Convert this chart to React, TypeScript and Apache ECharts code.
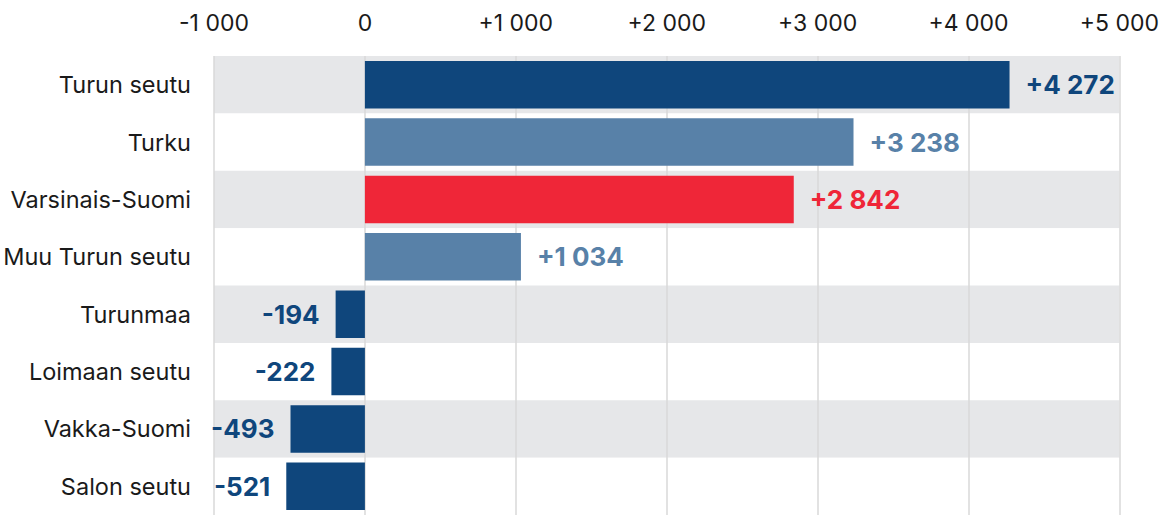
import React, { useEffect, useRef } from "react";
import * as echarts from "echarts";

const categories = [
  "Turun seutu",
  "Turku",
  "Varsinais-Suomi",
  "Muu Turun seutu",
  "Turunmaa",
  "Loimaan seutu",
  "Vakka-Suomi",
  "Salon seutu",
];
const values = [4272, 3238, 2842, 1034, -194, -222, -493, -521];
const barColors = [
  "#0f467c",
  "#5881a8",
  "#ef2638",
  "#5881a8",
  "#0f467c",
  "#0f467c",
  "#0f467c",
  "#0f467c",
];

const fmt = (v: number) => {
  const abs = Math.abs(v)
    .toString()
    .replace(/\B(?=(\d{3})+(?!\d))/g, " ");
  if (v > 0) return "+" + abs;
  if (v < 0) return "-" + abs;
  return "0";
};

export default function App() {
  const ref = useRef<HTMLDivElement>(null);
  useEffect(() => {
    if (!ref.current) return;
    const chart = echarts.init(ref.current, undefined, { renderer: "svg" });
    const font = "Inter, 'Noto Sans', sans-serif";
    chart.setOption({
      animation: false,
      textStyle: { fontFamily: font },
      grid: { left: 214, width: 907, top: 56, height: 464, containLabel: false },
      xAxis: {
        type: "value",
        position: "top",
        min: -1000,
        max: 5000,
        interval: 1000,
        z: 1,
        axisLine: { show: false },
        axisTick: { show: false },
        axisLabel: {
          formatter: (v: number) => fmt(v),
          fontSize: 23,
          color: "#1a1a1a",
          fontFamily: font,
          margin: 22,
        },
        splitLine: { show: true, lineStyle: { color: "#d9d9d9", width: 1.5 } },
      },
      yAxis: {
        type: "category",
        data: categories,
        inverse: true,
        z: 0,
        axisLine: { show: false },
        axisTick: { show: false },
        axisLabel: {
          fontSize: 23.5,
          color: "#1a1a1a",
          fontFamily: font,
          margin: 23,
        },
        splitLine: { show: false },
        splitArea: {
          show: true,
          areaStyle: { color: ["#e6e7e9", "#ffffff"] },
        },
      },
      series: [
        {
          type: "bar",
          z: 2,
          barWidth: "83%",
          data: values.map((v, i) => ({
            value: v,
            itemStyle: { color: barColors[i] },
            label: {
              show: true,
              position: v >= 0 ? "right" : "left",
              distance: 16,
              formatter: () => fmt(v),
              color: barColors[i],
              fontSize: 26,
              fontWeight: "bold",
              fontFamily: font,
            },
          })),
        },
      ],
    });
    return () => chart.dispose();
  }, []);
  return (
    <div
      ref={ref}
      style={{ position: "absolute", left: 0, top: 0, width: 1162, height: 515 }}
    />
  );
}
